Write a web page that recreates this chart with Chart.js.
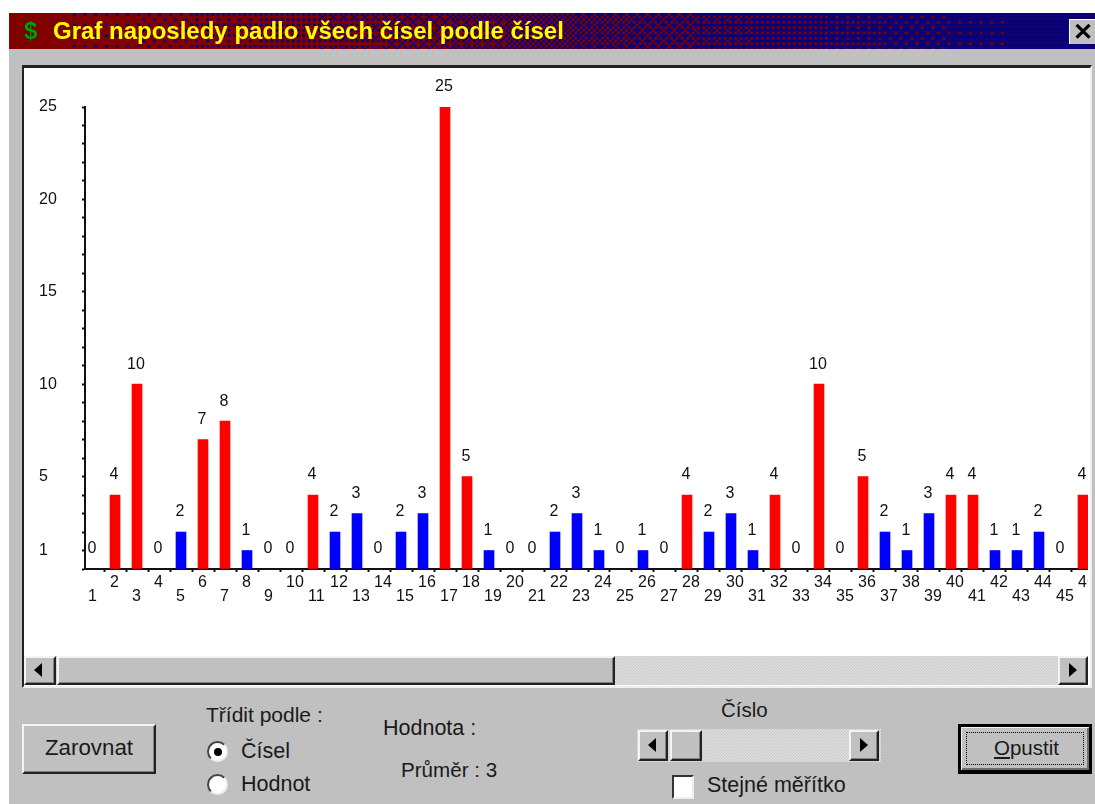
<!DOCTYPE html>
<html>
<head>
<meta charset="utf-8">
<title>Graf naposledy padlo</title>
<script src="https://cdn.jsdelivr.net/npm/chart.js@4"></script>
<style>
  html, body { margin: 0; padding: 0; background: #fff; overflow: hidden; }
  #win { position: absolute; left: 9px; top: 13px; width: 1086px; height: 791px; background: #c0c0c0; }
  #page { position: absolute; left: 0; top: 0; width: 1095px; height: 804px; font-family: "Liberation Sans", Arial, sans-serif; color: #111; filter: blur(0.4px); }
  #titlebar { position: absolute; left: 9px; top: 13px; }
  .abs { position: absolute; white-space: nowrap; }
  .lbl { position: absolute; white-space: nowrap; font-size: 21.5px; line-height: 24px; color: #1a1a1a; }
  #title { left: 53px; top: 17px; font: bold 24px/28px "Liberation Sans", Arial, sans-serif; color: #ffff00; }
  #dollar { left: 24px; top: 17px; font: bold 24px/28px "Liberation Sans", Arial, sans-serif; color: #00a000; text-shadow: 0 0 1px #000; }
  #close { left: 1069px; top: 19px; width: 26px; height: 24px; background: #c0c0c0; border-left: 1px solid #fff; border-top: 1px solid #fff; text-align: center; font: bold 24px/24px "Liberation Sans", sans-serif; color: #000; }
  #well { left: 22px; top: 65px; width: 1066px; height: 618px; border: 2px solid #222; border-right-color: #eee; border-bottom-color: #eee; background: #fff; border-top-width: 3px; }
  #plot { position: absolute; left: 24px; top: 68px; width: 1064px; height: 587px; overflow: hidden; background: #fff; }
  #plot canvas { position: absolute; left: 0; top: 0; }
  .raised { position: absolute; box-sizing: border-box; background: #c0c0c0; border: 2px solid; border-color: #f4f4f4 #222 #222 #f4f4f4; box-shadow: inset -1px -1px 0 #808080; }
  .track { position: absolute; background-color: #dedede; background-image: linear-gradient(45deg, #c8c8c8 25%, transparent 25%, transparent 75%, #c8c8c8 75%), linear-gradient(45deg, #c8c8c8 25%, transparent 25%, transparent 75%, #c8c8c8 75%); background-size: 3px 3px; background-position: 0 0, 1.5px 1.5px; }
  .arrow-l, .arrow-r { position: absolute; width: 0; height: 0; border-top: 7px solid transparent; border-bottom: 7px solid transparent; }
  .arrow-l { border-right: 8px solid #000; }
  .arrow-r { border-left: 8px solid #000; }
  .radio { position: absolute; width: 21px; height: 21px; border-radius: 50%; background: #fff; border: 2px solid; border-color: #444 #eee #eee #444; box-sizing: border-box; }
  .dot { position: absolute; left: 4.5px; top: 4.5px; width: 8px; height: 8px; border-radius: 50%; background: #000; }
</style>
</head>
<body>
<div id="page">
  <div id="win"></div>
  <canvas id="titlebar" width="1086" height="36"></canvas>
  <div class="abs" id="dollar">$</div>
  <div class="abs" id="title">Graf naposledy padlo všech čísel podle čísel</div>
  <div class="abs" id="close">✕</div>

  <div class="abs" id="well"></div>
  <div id="plot"><canvas id="reportChart" width="1100" height="587" style="width:1100px;height:587px"></canvas></div>

  <!-- spodni posuvnik grafu -->
  <div class="track" style="left:24px;top:656px;width:1064px;height:29px"></div>
  <div class="raised" style="left:24px;top:656px;width:32px;height:29px"><div class="arrow-l" style="left:8px;top:5px"></div></div>
  <div class="raised" style="left:57px;top:656px;width:558px;height:29px"></div>
  <div class="raised" style="left:1058px;top:656px;width:30px;height:29px"><div class="arrow-r" style="left:9px;top:5px"></div></div>

  <!-- ovladaci prvky -->
  <div class="raised" style="left:22px;top:724px;width:134px;height:50px"></div>
  <div class="lbl" style="left:45px;top:736px;font-size:22.3px">Zarovnat</div>

  <div class="lbl" style="left:206px;top:703px;font-size:21px">Třídit podle :</div>
  <div class="radio" style="left:207px;top:741px"><div class="dot"></div></div>
  <div class="lbl" style="left:241px;top:739px">Čísel</div>
  <div class="radio" style="left:207px;top:774px"></div>
  <div class="lbl" style="left:241px;top:772px">Hodnot</div>

  <div class="lbl" style="left:383px;top:716px">Hodnota :</div>
  <div class="lbl" style="left:401px;top:758px;font-size:20.6px">Průměr : 3</div>

  <div class="lbl" style="left:721px;top:698px;font-size:20.5px">Číslo</div>
  <div class="track" style="left:637px;top:729px;width:244px;height:33px"></div>
  <div class="raised" style="left:638px;top:730px;width:30px;height:31px"><div class="arrow-l" style="left:8px;top:6px"></div></div>
  <div class="raised" style="left:670px;top:730px;width:32px;height:31px"></div>
  <div class="raised" style="left:849px;top:730px;width:30px;height:31px"><div class="arrow-r" style="left:9px;top:6px"></div></div>
  <div class="abs" style="left:672px;top:775px;width:22px;height:24px;box-sizing:border-box;background:#fff;border:2px solid;border-color:#333 #eee #eee #333"></div>
  <div class="lbl" style="left:707px;top:773px">Stejné měřítko</div>

  <div class="abs" style="left:958px;top:724px;width:134px;height:50px;box-sizing:border-box;border:3px solid #000;border-bottom-width:4px;background:#c0c0c0;box-shadow:inset 1px 1px 0 #f4f4f4, inset -2px -2px 0 #707070"></div>
  <div class="abs" style="left:966px;top:732px;width:118px;height:33px;box-sizing:border-box;border:1px dotted #000"></div>
  <div class="lbl" style="left:994px;top:736px;font-size:20.5px"><u>O</u>pustit</div>
</div>

<script>
const categories = [1,2,3,4,5,6,7,8,9,10,11,12,13,14,15,16,17,18,19,20,21,22,23,24,25,26,27,28,29,30,31,32,33,34,35,36,37,38,39,40,41,42,43,44,45,46];
const values = [0,4,10,0,2,7,8,1,0,0,4,2,3,0,2,3,25,5,1,0,0,2,3,1,0,1,0,4,2,3,1,4,0,10,0,5,2,1,3,4,4,1,1,2,0,4];
const yLabels = [1,5,10,15,20,25];
const average = 3;

const textFont = { family: '"Liberation Sans", Arial, sans-serif', size: 16 };

// titulek: rozpad barev maroon -> navy (jako Win95 s 256 barvami)
function drawTitlebar() {
  const c = document.getElementById("titlebar");
  const g = c.getContext("2d");
  const bayer = [[0,8,2,10],[12,4,14,6],[3,11,1,9],[15,7,13,5]];
  const step = 8 / 3;
  g.fillStyle = "#800000";
  g.fillRect(0, 0, c.width, c.height);
  for (let i = 0; i * step < c.width; i++) {
    for (let j = 0; j * step < c.height; j++) {
      const x = i * step;
      const t = Math.min(1, Math.max(0, (x - 30) / 1000));
      if (t * 16 > bayer[j % 4][i % 4] + 0.5) {
        g.fillStyle = "#000080";
        g.fillRect(x, j * step, step, step);
      }
    }
  }
}
drawTitlebar();

// hodnoty nad sloupci
const valueLabels = {
  id: "valueLabels",
  afterDatasetsDraw(chart) {
    const ctx = chart.ctx;
    const meta = chart.getDatasetMeta(0);
    ctx.save();
    ctx.font = `${textFont.size}px ${textFont.family}`;
    ctx.fillStyle = "#111";
    ctx.textAlign = "center";
    ctx.textBaseline = "middle";
    meta.data.forEach((bar, i) => {
      ctx.fillText(String(values[i]), bar.x - 1, chart.scales.y.getPixelForValue(values[i]) - 20);
    });
    ctx.restore();
  }
};

new Chart(document.getElementById("reportChart"), {
  type: "bar",
  data: {
    labels: categories,
    datasets: [{
      data: values,
      barThickness: 10,
      backgroundColor: ctx => (ctx.raw === 0 ? "transparent" : ctx.raw > average ? "#ff0000" : "#0000ff")
    }]
  },
  plugins: [valueLabels],
  options: {
    responsive: false,
    animation: false,
    layout: { padding: { top: 39, right: 0, bottom: 0, left: 15 } },
    plugins: { legend: { display: false }, tooltip: { enabled: false } },
    scales: {
      x: {
        type: "linear",
        offset: false,
        min: 0.636,
        max: 47.864,
        afterBuildTicks: s => { s.ticks = categories.map(v => ({ value: v })); },
        afterFit: s => { s.height = 86; },
        border: { color: "#111", width: 2 },
        grid: { drawOnChartArea: false, tickLength: 3, tickColor: "#111", tickWidth: 2 },
        ticks: {
          autoSkip: false,
          maxRotation: 0,
          padding: 4,
          align: "start",
          labelOffset: -5,
          color: "#111",
          font: { ...textFont, lineHeight: 14 / 16 },
          callback: v => (v % 2 === 0 ? [String(v)] : ["", String(v)])
        }
      },
      y: {
        min: 0,
        max: 25,
        afterBuildTicks: s => { s.ticks = Array.from({ length: 26 }, (_, i) => ({ value: i })); },
        afterFit: s => { s.width = 46; },
        border: { color: "#111", width: 2 },
        grid: { drawOnChartArea: false, tickLength: 3, tickColor: "#111", tickWidth: 2 },
        ticks: {
          autoSkip: false,
          crossAlign: "far",
          color: "#111",
          font: textFont,
          callback: v => (yLabels.includes(v) ? String(v) : "")
        }
      }
    }
  }
});
</script>
</body>
</html>
